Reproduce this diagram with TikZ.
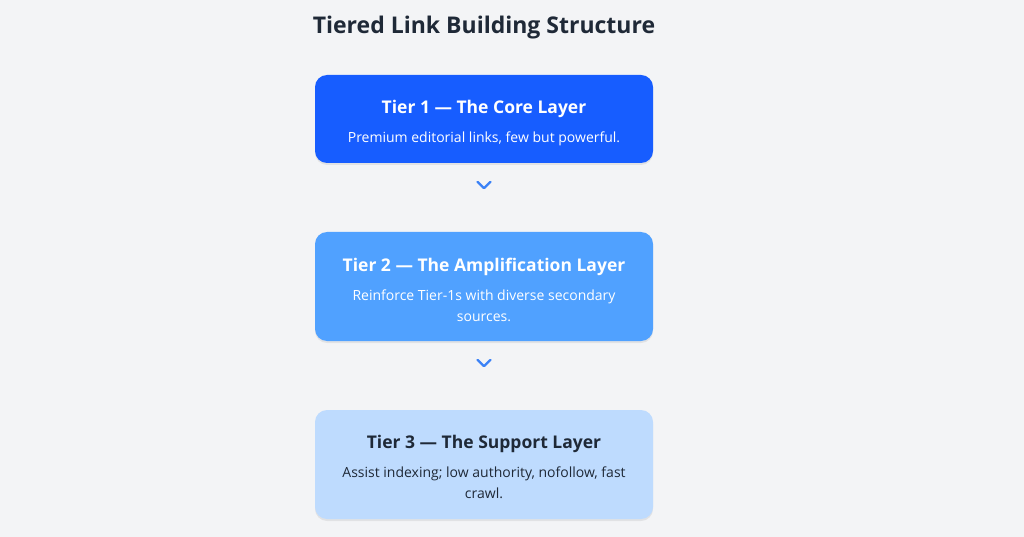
\documentclass[tikz,border=0pt]{standalone}
\usepackage{fontspec}
\setmainfont{Open Sans}
\usepackage{tikz}

\definecolor{pagebg}{HTML}{F3F4F6}
\definecolor{inkdark}{HTML}{1F2937}
\definecolor{tierone}{HTML}{175DFF}
\definecolor{tiertwo}{HTML}{50A1FF}
\definecolor{tierthree}{HTML}{BEDBFE}
\definecolor{chevron}{HTML}{3B82F6}

\tikzset{
  tierbox/.style={rounded corners=12pt, minimum width=338pt, inner sep=0pt,
    preaction={fill=black, fill opacity=0.07, transform canvas={yshift=-2pt}}},
  tiertitle/.style={font=\fontsize{17.5}{21}\selectfont\bfseries},
  tierbody/.style={font=\fontsize{14}{21}\selectfont, align=center},
  chevronline/.style={draw=chevron, line width=2.2pt, line cap=round, line join=round}
}

\begin{document}
\begin{tikzpicture}[x=1pt, y=-1pt]
      \fill [pagebg] (0, 0) rectangle (1024, 537);
      \useasboundingbox (0, 0) rectangle (1024, 537);
      \node [font=\fontsize{23}{28}\selectfont\bfseries, text=inkdark] (heading) at (484, 28) {Tiered Link Building Structure};
      % tier boxes
      \node [tierbox, fill=tierone, minimum height=88pt] (t1) at (484, 119) {};
      \node [tierbox, fill=tiertwo, minimum height=109pt] (t2) at (484, 286.5) {};
      \node [tierbox, fill=tierthree, minimum height=109pt] (t3) at (484, 464.5) {};
      % texts
      \node [tiertitle, text=white] (t1title) at (484, 109) {Tier 1 — The Core Layer};
      \node [tierbody, text=white] (t1body) at (484, 139) {Premium editorial links, few but powerful.};
      \node [tiertitle, text=white] (t2title) at (484, 267) {Tier 2 — The Amplification Layer};
      \node [tierbody, text=white] (t2body) at (484, 305.5) {Reinforce Tier-1s with diverse secondary\\sources.};
      \node [tiertitle, text=inkdark] (t3title) at (484, 444) {Tier 3 — The Support Layer};
      \node [tierbody, text=inkdark] (t3body) at (484, 482.5) {Assist indexing; low authority, nofollow, fast\\crawl.};
      % chevrons
      \coordinate (c1) at (484, 185);
      \coordinate (c2) at (484, 363);
      \draw [chevronline] ([shift={(-6.5, -3.2)}]c1) -- ([shift={(0, 3.2)}]c1) -- ([shift={(6.5, -3.2)}]c1);
      \draw [chevronline] ([shift={(-6.5, -3.2)}]c2) -- ([shift={(0, 3.2)}]c2) -- ([shift={(6.5, -3.2)}]c2);
    \end{tikzpicture}
\end{document}
